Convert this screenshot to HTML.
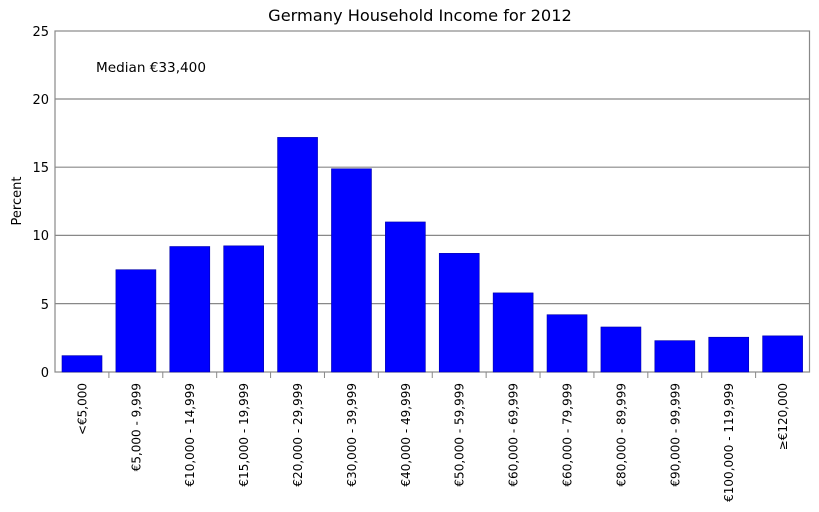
<!DOCTYPE html>
<html><head><meta charset="utf-8"><style>body{margin:0;background:#fff}svg{display:block}text{font-family:"DejaVu Sans","Liberation Sans",sans-serif;fill:#000}</style></head><body>
<svg width="819" height="512" viewBox="0 0 819 512" xmlns="http://www.w3.org/2000/svg">
<text x="420" y="21" font-size="16.2" text-anchor="middle">Germany Household Income for 2012</text>
<g stroke="#888" stroke-width="1.2">
<line x1="55" y1="99" x2="809.5" y2="99"/><line x1="55" y1="167.2" x2="809.5" y2="167.2"/><line x1="55" y1="235.4" x2="809.5" y2="235.4"/><line x1="55" y1="303.6" x2="809.5" y2="303.6"/>
<rect x="55" y="31" width="754.5" height="341" fill="none"/>
</g>
<g font-size="13" text-anchor="end">
<text x="49" y="36">25</text><text x="49" y="104">20</text><text x="49" y="172">15</text><text x="49" y="240">10</text><text x="49" y="309">5</text><text x="49" y="377">0</text>
</g>
<text transform="translate(21,201) rotate(-90)" font-size="13" text-anchor="middle">Percent</text>
<text x="96" y="72" font-size="13.6">Median €33,400</text>
<g fill="#0000ff" stroke="#0000aa" stroke-width="0.6" id="bars"></g>
<g id="ticks" stroke="#888" stroke-width="1"></g>
<g id="labs" font-size="12" text-anchor="end"></g>
</svg>
<script>
var v=[1.2,7.5,9.2,9.25,17.2,14.9,11.0,8.7,5.8,4.2,3.3,2.3,2.55,2.65];
var l=["<€5,000","€5,000 - 9,999","€10,000 - 14,999","€15,000 - 19,999","€20,000 - 29,999","€30,000 - 39,999","€40,000 - 49,999","€50,000 - 59,999","€60,000 - 69,999","€60,000 - 79,999","€80,000 - 89,999","€90,000 - 99,999","€100,000 - 119,999","≥€120,000"];
var ns="http://www.w3.org/2000/svg",w=(809.5-55)/14;
var B=document.getElementById("bars"),T=document.getElementById("ticks"),L=document.getElementById("labs");
for(var i=0;i<14;i++){var x=55+w*i,h=v[i]*13.64;
var r=document.createElementNS(ns,"rect");r.setAttribute("x",x+7);r.setAttribute("width",40);r.setAttribute("y",372-h);r.setAttribute("height",h);B.appendChild(r);
if(i>0){var t=document.createElementNS(ns,"line");t.setAttribute("x1",x);t.setAttribute("x2",x);t.setAttribute("y1",372);t.setAttribute("y2",378);T.appendChild(t);}
var s=document.createElementNS(ns,"text");var cx=x+w/2+4.5;s.setAttribute("transform","translate("+cx+",383) rotate(-90)");s.textContent=l[i];L.appendChild(s);}
</script>
</body></html>
